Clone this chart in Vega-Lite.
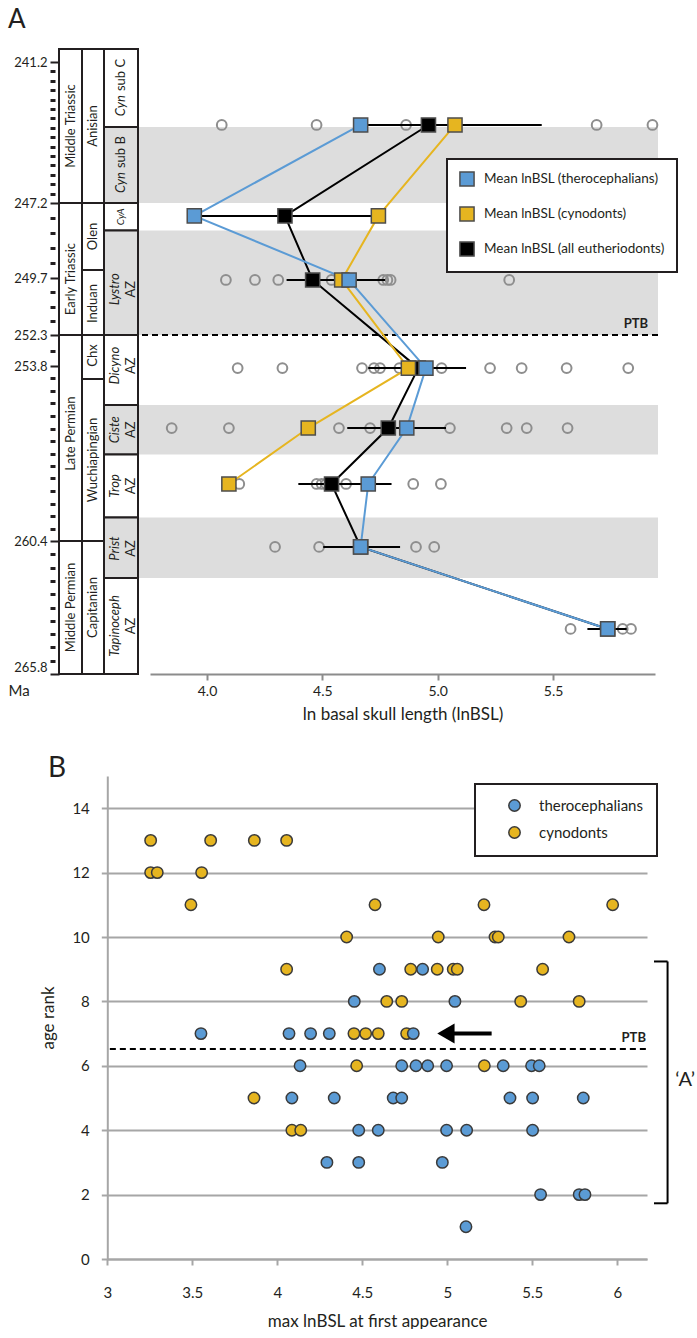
{
  "$schema": "https://vega.github.io/schema/vega-lite/v6.json",
  "background": "white",
  "padding": {"left": 8, "top": 7, "right": 0, "bottom": 0},
  "config": {
    "view": {"stroke": null},
    "font": "Lato",
    "legend": {"strokeWidth": 2}
  },
  "datasets": {
    "one": [{}],
    "zones": [
      {"label": "Middle Triassic", "it": "", "rest": "", "c": 0, "c2": 1, "start": 240.65, "end": 247.2, "gray": false},
      {"label": "Early Triassic", "it": "", "rest": "", "c": 0, "c2": 1, "start": 247.2, "end": 252.3, "gray": false},
      {"label": "Late Permian", "it": "", "rest": "", "c": 0, "c2": 1, "start": 252.3, "end": 260.4, "gray": false},
      {"label": "Middle Permian", "it": "", "rest": "", "c": 0, "c2": 1, "start": 260.4, "end": 265.8, "gray": false},
      {"label": "Anisian", "it": "", "rest": "", "c": 1, "c2": 2, "start": 240.65, "end": 247.2, "gray": false},
      {"label": "Olen", "it": "", "rest": "", "c": 1, "c2": 2, "start": 247.2, "end": 249.43, "gray": false},
      {"label": "Induan", "it": "", "rest": "", "c": 1, "c2": 2, "start": 249.43, "end": 252.3, "gray": false},
      {"label": "Chx", "it": "", "rest": "", "c": 1, "c2": 2, "start": 252.3, "end": 254.29, "gray": false},
      {"label": "Wuchiapingian", "it": "", "rest": "", "c": 1, "c2": 2, "start": 254.29, "end": 260.4, "gray": false},
      {"label": "Capitanian", "it": "", "rest": "", "c": 1, "c2": 2, "start": 260.4, "end": 265.8, "gray": false},
      {"label": "Cyn sub C", "it": "Cyn", "rest": "sub C", "c": 2, "c2": 3, "start": 240.65, "end": 243.97, "gray": false},
      {"label": "Cyn sub B", "it": "Cyn", "rest": "sub B", "c": 2, "c2": 3, "start": 243.97, "end": 247.2, "gray": true},
      {"label": "CyA", "it": "CyA", "rest": "", "c": 2, "c2": 3, "start": 247.2, "end": 248.12, "gray": false},
      {"label": "Lystro AZ", "it": "Lystro", "rest": "AZ", "c": 2, "c2": 3, "start": 248.12, "end": 252.3, "gray": true},
      {"label": "Dicyno AZ", "it": "Dicyno", "rest": "AZ", "c": 2, "c2": 3, "start": 252.3, "end": 255.27, "gray": false},
      {"label": "Ciste AZ", "it": "Ciste", "rest": "AZ", "c": 2, "c2": 3, "start": 255.27, "end": 257.14, "gray": true},
      {"label": "Trop AZ", "it": "Trop", "rest": "AZ", "c": 2, "c2": 3, "start": 257.14, "end": 259.51, "gray": false},
      {"label": "Prist AZ", "it": "Prist", "rest": "AZ", "c": 2, "c2": 3, "start": 259.51, "end": 261.9, "gray": true},
      {"label": "Tapinoceph AZ", "it": "Tapinoceph", "rest": "AZ", "c": 2, "c2": 3, "start": 261.9, "end": 265.8, "gray": false}
    ],
    "pts": [
      {"zone": "Cyn sub B", "ma": 243.88, "v": 4.064}, {"zone": "Cyn sub B", "ma": 243.88, "v": 4.475}, {"zone": "Cyn sub B", "ma": 243.88, "v": 4.863}, {"zone": "Cyn sub B", "ma": 243.88, "v": 5.689}, {"zone": "Cyn sub B", "ma": 243.88, "v": 5.931},
      {"zone": "Lystro", "ma": 249.79, "v": 4.082}, {"zone": "Lystro", "ma": 249.79, "v": 4.208}, {"zone": "Lystro", "ma": 249.79, "v": 4.309}, {"zone": "Lystro", "ma": 249.79, "v": 4.54}, {"zone": "Lystro", "ma": 249.79, "v": 4.764}, {"zone": "Lystro", "ma": 249.79, "v": 4.782}, {"zone": "Lystro", "ma": 249.79, "v": 4.796}, {"zone": "Lystro", "ma": 249.79, "v": 5.31},
      {"zone": "Dicyno", "ma": 253.88, "v": 4.133}, {"zone": "Dicyno", "ma": 253.88, "v": 4.327}, {"zone": "Dicyno", "ma": 253.88, "v": 4.672}, {"zone": "Dicyno", "ma": 253.88, "v": 4.724}, {"zone": "Dicyno", "ma": 253.88, "v": 4.75}, {"zone": "Dicyno", "ma": 253.88, "v": 4.834}, {"zone": "Dicyno", "ma": 253.88, "v": 5.017}, {"zone": "Dicyno", "ma": 253.88, "v": 5.227}, {"zone": "Dicyno", "ma": 253.88, "v": 5.364}, {"zone": "Dicyno", "ma": 253.88, "v": 5.559}, {"zone": "Dicyno", "ma": 253.88, "v": 5.826},
      {"zone": "Ciste", "ma": 256.14, "v": 3.847}, {"zone": "Ciste", "ma": 256.14, "v": 4.095}, {"zone": "Ciste", "ma": 256.14, "v": 4.572}, {"zone": "Ciste", "ma": 256.14, "v": 4.707}, {"zone": "Ciste", "ma": 256.14, "v": 5.053}, {"zone": "Ciste", "ma": 256.14, "v": 5.299}, {"zone": "Ciste", "ma": 256.14, "v": 5.386}, {"zone": "Ciste", "ma": 256.14, "v": 5.563},
      {"zone": "Trop", "ma": 258.25, "v": 4.14}, {"zone": "Trop", "ma": 258.25, "v": 4.475}, {"zone": "Trop", "ma": 258.25, "v": 4.497}, {"zone": "Trop", "ma": 258.25, "v": 4.516}, {"zone": "Trop", "ma": 258.25, "v": 4.603}, {"zone": "Trop", "ma": 258.25, "v": 4.894}, {"zone": "Trop", "ma": 258.25, "v": 5.014},
      {"zone": "Prist", "ma": 260.64, "v": 4.295}, {"zone": "Prist", "ma": 260.64, "v": 4.486}, {"zone": "Prist", "ma": 260.64, "v": 4.906}, {"zone": "Prist", "ma": 260.64, "v": 4.985},
      {"zone": "Tapinoceph", "ma": 263.97, "v": 5.576}, {"zone": "Tapinoceph", "ma": 263.97, "v": 5.802}, {"zone": "Tapinoceph", "ma": 263.97, "v": 5.838}
    ],
    "means": [
      {"series": "Mean lnBSL (all eutheriodonts)", "ma": 243.88, "v": 4.96},
      {"series": "Mean lnBSL (all eutheriodonts)", "ma": 247.63, "v": 4.338},
      {"series": "Mean lnBSL (all eutheriodonts)", "ma": 249.79, "v": 4.458},
      {"series": "Mean lnBSL (all eutheriodonts)", "ma": 253.88, "v": 4.916},
      {"series": "Mean lnBSL (all eutheriodonts)", "ma": 256.14, "v": 4.786},
      {"series": "Mean lnBSL (all eutheriodonts)", "ma": 258.25, "v": 4.54},
      {"series": "Mean lnBSL (all eutheriodonts)", "ma": 260.64, "v": 4.666},
      {"series": "Mean lnBSL (all eutheriodonts)", "ma": 263.97, "v": 5.737},
      {"series": "Mean lnBSL (cynodonts)", "ma": 243.88, "v": 5.075},
      {"series": "Mean lnBSL (cynodonts)", "ma": 247.63, "v": 4.743},
      {"series": "Mean lnBSL (cynodonts)", "ma": 249.79, "v": 4.584},
      {"series": "Mean lnBSL (cynodonts)", "ma": 253.88, "v": 4.873},
      {"series": "Mean lnBSL (cynodonts)", "ma": 256.14, "v": 4.439},
      {"series": "Mean lnBSL (cynodonts)", "ma": 258.25, "v": 4.095},
      {"series": "Mean lnBSL (therocephalians)", "ma": 243.88, "v": 4.666},
      {"series": "Mean lnBSL (therocephalians)", "ma": 247.63, "v": 3.945},
      {"series": "Mean lnBSL (therocephalians)", "ma": 249.79, "v": 4.616},
      {"series": "Mean lnBSL (therocephalians)", "ma": 253.88, "v": 4.949},
      {"series": "Mean lnBSL (therocephalians)", "ma": 256.14, "v": 4.866},
      {"series": "Mean lnBSL (therocephalians)", "ma": 258.25, "v": 4.699},
      {"series": "Mean lnBSL (therocephalians)", "ma": 260.64, "v": 4.666},
      {"series": "Mean lnBSL (therocephalians)", "ma": 263.97, "v": 5.737}
    ],
    "err": [
      {"ma": 243.88, "lo": 4.69, "hi": 5.451},
      {"ma": 247.63, "lo": 3.945, "hi": 4.743},
      {"ma": 249.79, "lo": 4.345, "hi": 4.772},
      {"ma": 253.88, "lo": 4.699, "hi": 5.123},
      {"ma": 256.14, "lo": 4.608, "hi": 5.036},
      {"ma": 258.25, "lo": 4.396, "hi": 4.8},
      {"ma": 260.64, "lo": 4.504, "hi": 4.837},
      {"ma": 263.97, "lo": 5.649, "hi": 5.819}
    ],
    "fa": [
      {"group": "cynodonts", "rank": 13, "v": 3.255}, {"group": "cynodonts", "rank": 13, "v": 3.608}, {"group": "cynodonts", "rank": 13, "v": 3.865}, {"group": "cynodonts", "rank": 13, "v": 4.055},
      {"group": "cynodonts", "rank": 12, "v": 3.255}, {"group": "cynodonts", "rank": 12, "v": 3.294}, {"group": "cynodonts", "rank": 12, "v": 3.555},
      {"group": "cynodonts", "rank": 11, "v": 3.492}, {"group": "cynodonts", "rank": 11, "v": 4.575}, {"group": "cynodonts", "rank": 11, "v": 5.216}, {"group": "cynodonts", "rank": 11, "v": 5.973},
      {"group": "cynodonts", "rank": 10, "v": 4.408}, {"group": "cynodonts", "rank": 10, "v": 4.947}, {"group": "cynodonts", "rank": 10, "v": 5.281}, {"group": "cynodonts", "rank": 10, "v": 5.3}, {"group": "cynodonts", "rank": 10, "v": 5.716},
      {"group": "cynodonts", "rank": 9, "v": 4.055}, {"group": "cynodonts", "rank": 9, "v": 4.785}, {"group": "cynodonts", "rank": 9, "v": 4.941}, {"group": "cynodonts", "rank": 9, "v": 5.035}, {"group": "cynodonts", "rank": 9, "v": 5.059}, {"group": "cynodonts", "rank": 9, "v": 5.561},
      {"group": "cynodonts", "rank": 8, "v": 4.644}, {"group": "cynodonts", "rank": 8, "v": 4.732}, {"group": "cynodonts", "rank": 8, "v": 5.432}, {"group": "cynodonts", "rank": 8, "v": 5.776},
      {"group": "cynodonts", "rank": 7, "v": 4.451}, {"group": "cynodonts", "rank": 7, "v": 4.52}, {"group": "cynodonts", "rank": 7, "v": 4.594}, {"group": "cynodonts", "rank": 7, "v": 4.761},
      {"group": "cynodonts", "rank": 6, "v": 4.467}, {"group": "cynodonts", "rank": 6, "v": 5.218},
      {"group": "cynodonts", "rank": 5, "v": 3.863},
      {"group": "cynodonts", "rank": 4, "v": 4.086}, {"group": "cynodonts", "rank": 4, "v": 4.138},
      {"group": "therocephalians", "rank": 9, "v": 4.601}, {"group": "therocephalians", "rank": 9, "v": 4.855},
      {"group": "therocephalians", "rank": 8, "v": 4.453}, {"group": "therocephalians", "rank": 8, "v": 5.045},
      {"group": "therocephalians", "rank": 7, "v": 3.551}, {"group": "therocephalians", "rank": 7, "v": 4.069}, {"group": "therocephalians", "rank": 7, "v": 4.196}, {"group": "therocephalians", "rank": 7, "v": 4.306}, {"group": "therocephalians", "rank": 7, "v": 4.8},
      {"group": "therocephalians", "rank": 6, "v": 4.134}, {"group": "therocephalians", "rank": 6, "v": 4.732}, {"group": "therocephalians", "rank": 6, "v": 4.816}, {"group": "therocephalians", "rank": 6, "v": 4.885}, {"group": "therocephalians", "rank": 6, "v": 4.996}, {"group": "therocephalians", "rank": 6, "v": 5.329}, {"group": "therocephalians", "rank": 6, "v": 5.496}, {"group": "therocephalians", "rank": 6, "v": 5.541},
      {"group": "therocephalians", "rank": 5, "v": 4.086}, {"group": "therocephalians", "rank": 5, "v": 4.335}, {"group": "therocephalians", "rank": 5, "v": 4.682}, {"group": "therocephalians", "rank": 5, "v": 4.732}, {"group": "therocephalians", "rank": 5, "v": 5.369}, {"group": "therocephalians", "rank": 5, "v": 5.502}, {"group": "therocephalians", "rank": 5, "v": 5.8},
      {"group": "therocephalians", "rank": 4, "v": 4.479}, {"group": "therocephalians", "rank": 4, "v": 4.594}, {"group": "therocephalians", "rank": 4, "v": 4.996}, {"group": "therocephalians", "rank": 4, "v": 5.114}, {"group": "therocephalians", "rank": 4, "v": 5.502},
      {"group": "therocephalians", "rank": 3, "v": 4.292}, {"group": "therocephalians", "rank": 3, "v": 4.479}, {"group": "therocephalians", "rank": 3, "v": 4.971},
      {"group": "therocephalians", "rank": 2, "v": 5.549}, {"group": "therocephalians", "rank": 2, "v": 5.776}, {"group": "therocephalians", "rank": 2, "v": 5.81},
      {"group": "therocephalians", "rank": 1, "v": 5.11}
    ]
  },
  "bounds": "flush",
  "spacing": 102,
  "resolve": {"scale": {"fill": "independent", "stroke": "independent", "x": "independent", "y": "independent"}, "legend": {"fill": "independent", "stroke": "independent"}},
  "vconcat": [
    {
      "width": 599,
      "height": 625,
      "title": {"text": "A", "anchor": "start", "frame": "group", "fontSize": 26, "fontWeight": "normal", "dx": -51, "offset": 15, "color": "#231f20"},
      "resolve": {"scale": {"x": "independent"}, "axis": {"x": "independent"}},
      "layer": [
        {
          "data": {"name": "zones"},
          "transform": [{"filter": "datum.gray"}],
          "mark": {"type": "rect", "fill": "#dddddd"},
          "encoding": {
            "y": {
              "field": "start", "type": "quantitative",
              "scale": {"domain": [240.65, 241.2, 247.2, 249.7, 252.3, 253.8, 260.4, 265.8], "range": [0, 13, 154, 229, 286, 317, 492, 625], "nice": false, "zero": false},
              "axis": {
                "values": [241.2, 241.6, 242.0, 242.4, 242.8, 243.2, 243.6, 244.0, 244.4, 244.8, 245.2, 245.6, 246.0, 246.4, 246.8, 247.2, 247.7, 248.2, 248.7, 249.2, 249.7, 250.35, 251.0, 251.65, 252.3, 253.05, 253.8, 254.27, 254.74, 255.21, 255.69, 256.16, 256.63, 257.1, 257.57, 258.04, 258.51, 258.99, 259.46, 259.93, 260.4, 260.94, 261.48, 262.02, 262.56, 263.1, 263.64, 264.18, 264.72, 265.26, 265.8],
                "tickCount": 500,
                "labelExpr": "indexof([241.2,247.2,249.7,252.3,253.8,260.4,265.8], datum.value) >= 0 ? format(datum.value, '.1f') : ''",
                "labelOverlap": false,
                "domain": false,
                "grid": false,
                "tickSize": 9,
                "tickColor": "#231f20",
                "tickWidth": {"condition": {"test": "indexof([241.2,247.2,249.7,252.3,253.8,260.4,265.8], datum.value) >= 0", "value": 2}, "value": 3},
                "tickDash": {"condition": {"test": "indexof([241.2,247.2,249.7,252.3,253.8,260.4,265.8], datum.value) >= 0", "value": [20, 0]}, "value": [0, 4, 5, 0]},
                "labelFontSize": 13,
                "labelColor": "#231f20",
                "labelPadding": 3,
                "labelBaseline": {"condition": {"test": "datum.value == 265.8", "value": "bottom"}, "value": "middle"},
                "title": "Ma",
                "titleAngle": 0,
                "titleX": -51,
                "titleY": 641,
                "titleAlign": "left",
                "titleBaseline": "middle",
                "titleFontSize": 15,
                "titleFontWeight": "normal",
                "titleColor": "#231f20"
              }
            },
            "y2": {"field": "end"}
          }
        },
        {
          "data": {"name": "one"},
          "mark": {"type": "rule", "strokeDash": [6, 4], "strokeWidth": 2, "color": "#000000"},
          "encoding": {
            "y": {"datum": 252.3, "type": "quantitative"}
          }
        },
        {
          "data": {"name": "zones"},
          "transform": [
            {"calculate": "(datum.start + datum.end) / 2", "as": "mid"},
            {"calculate": "datum.c + 0.5", "as": "cx"}
          ],
          "layer": [
            {
              "mark": {"type": "rect", "stroke": "#231f20", "strokeWidth": 2},
              "encoding": {
                "x": {"field": "c", "type": "quantitative", "scale": {"domain": [0, 1, 2, 3], "range": [0, 23, 45, 79], "nice": false, "zero": false}, "axis": null},
                "x2": {"field": "c2"},
                "y": {"field": "start", "type": "quantitative"},
                "y2": {"field": "end"},
                "fill": {"condition": {"test": "datum.gray", "value": "#dddddd"}, "value": "#ffffff"}
              }
            },
            {
              "transform": [{"filter": "datum.c < 2"}],
              "mark": {"type": "text", "angle": 270, "fontSize": 13, "color": "#231f20", "align": "center", "baseline": "middle"},
              "encoding": {
                "x": {"field": "cx", "type": "quantitative", "axis": null},
                "y": {"field": "mid", "type": "quantitative"},
                "text": {"field": "label"}
              }
            },
            {
              "transform": [{"filter": "datum.it == 'Cyn'"}],
              "mark": {"type": "text", "angle": 270, "fontSize": 13, "fontStyle": "italic", "color": "#231f20", "align": "right", "baseline": "middle", "dx": -7},
              "encoding": {
                "x": {"field": "cx", "type": "quantitative", "axis": null},
                "y": {"field": "mid", "type": "quantitative"},
                "text": {"field": "it"}
              }
            },
            {
              "transform": [{"filter": "datum.it == 'Cyn'"}],
              "mark": {"type": "text", "angle": 270, "fontSize": 13, "color": "#231f20", "align": "left", "baseline": "middle", "dx": -3},
              "encoding": {
                "x": {"field": "cx", "type": "quantitative", "axis": null},
                "y": {"field": "mid", "type": "quantitative"},
                "text": {"field": "rest"}
              }
            },
            {
              "transform": [{"filter": "datum.it == 'CyA'"}],
              "mark": {"type": "text", "angle": 270, "fontSize": 10, "fontStyle": "italic", "color": "#231f20", "align": "center", "baseline": "middle"},
              "encoding": {
                "x": {"field": "cx", "type": "quantitative", "axis": null},
                "y": {"field": "mid", "type": "quantitative"},
                "text": {"field": "it"}
              }
            },
            {
              "transform": [{"filter": "datum.rest == 'AZ'"}],
              "mark": {"type": "text", "angle": 270, "fontSize": 13, "fontStyle": "italic", "color": "#231f20", "align": "center", "baseline": "middle", "dy": -6},
              "encoding": {
                "x": {"field": "cx", "type": "quantitative", "axis": null},
                "y": {"field": "mid", "type": "quantitative"},
                "text": {"field": "it"}
              }
            },
            {
              "transform": [{"filter": "datum.rest == 'AZ'"}],
              "mark": {"type": "text", "angle": 270, "fontSize": 13, "color": "#231f20", "align": "center", "baseline": "middle", "dy": 10},
              "encoding": {
                "x": {"field": "cx", "type": "quantitative", "axis": null},
                "y": {"field": "mid", "type": "quantitative"},
                "text": {"field": "rest"}
              }
            }
          ]
        },
        {
          "layer": [
            {
              "data": {"name": "pts"},
              "mark": {"type": "point", "shape": "circle", "filled": false, "stroke": "#8e8e8e", "strokeWidth": 2, "size": 95, "opacity": 1},
              "encoding": {
                "x": {
                  "field": "v", "type": "quantitative",
                  "scale": {"domain": [3.753, 5.942], "range": [91, 596], "nice": false, "zero": false},
                  "axis": {
                    "values": [4.0, 4.5, 5.0, 5.5],
                    "labelExpr": "format(datum.value, '.1f')",
                    "title": "ln basal skull length (lnBSL)",
                    "grid": false,
                    "domainColor": "#8c8c8c", "domainWidth": 2,
                    "tickColor": "#8c8c8c", "tickWidth": 2, "tickSize": 6,
                    "labelFontSize": 14, "labelColor": "#231f20", "labelPadding": 4, "labelFlush": false,
                    "titleFontSize": 17, "titleFontWeight": "normal", "titleColor": "#231f20", "titlePadding": 8
                  }
                },
                "y": {"field": "ma", "type": "quantitative"}
              }
            },
            {
              "data": {"name": "means"},
              "mark": {"type": "line", "strokeWidth": 2},
              "encoding": {
                "x": {"field": "v", "type": "quantitative"},
                "y": {"field": "ma", "type": "quantitative"},
                "stroke": {"field": "series", "type": "nominal", "scale": {"domain": ["Mean lnBSL (all eutheriodonts)", "Mean lnBSL (cynodonts)", "Mean lnBSL (therocephalians)"], "range": ["#000000", "#e6b520", "#5b9bd5"]}, "legend": null},
                "order": {"field": "ma", "type": "quantitative"}
              }
            },
            {
              "data": {"name": "err"},
              "mark": {"type": "rule", "color": "#000000", "strokeWidth": 2},
              "encoding": {
                "x": {"field": "lo", "type": "quantitative"},
                "x2": {"field": "hi"},
                "y": {"field": "ma", "type": "quantitative"}
              }
            },
            {
              "data": {"name": "means"},
              "mark": {"type": "point", "shape": "square", "filled": true, "size": 200, "stroke": "#4d4d4d", "strokeWidth": 1.5, "opacity": 1},
              "encoding": {
                "x": {"field": "v", "type": "quantitative"},
                "y": {"field": "ma", "type": "quantitative"},
                "fill": {
                  "field": "series", "type": "nominal",
                  "scale": {"domain": ["Mean lnBSL (therocephalians)", "Mean lnBSL (cynodonts)", "Mean lnBSL (all eutheriodonts)"], "range": ["#5b9bd5", "#e6b520", "#000000"]},
                  "legend": {
                    "title": null, "orient": "none", "legendX": 388, "legendY": 110,
                    "symbolType": "square", "symbolSize": 200, "symbolStrokeColor": "#4d4d4d", "symbolStrokeWidth": 1.5,
                    "labelFontSize": 13.5, "labelColor": "#231f20", "labelOffset": 9, "labelLimit": 300,
                    "padding": 12, "rowPadding": 13, "strokeColor": "#231f20", "fillColor": "#ffffff"
                  }
                }
              }
            },
            {
              "data": {"name": "one"},
              "mark": {"type": "text", "text": "PTB", "fontSize": 13, "fontWeight": "bold", "align": "right", "baseline": "middle", "dy": -11, "color": "#231f20"},
              "encoding": {
                "x": {"datum": 5.912, "type": "quantitative"},
                "y": {"datum": 252.3, "type": "quantitative"}
              }
            }
          ]
        }
      ]
    },
    {
      "width": 588,
      "height": 483,
      "title": {"text": "B", "anchor": "start", "frame": "group", "fontSize": 28, "fontWeight": "normal", "dx": -11, "offset": -7, "color": "#231f20"},
      "layer": [
        {
          "data": {"name": "fa"},
          "mark": {"type": "point", "shape": "circle", "filled": true, "size": 130, "stroke": "#3a3a3a", "strokeWidth": 1.5, "opacity": 1},
          "encoding": {
            "x": {
              "field": "v", "type": "quantitative",
              "scale": {"domain": [3, 6.175], "range": [48.3, 588], "nice": false, "zero": false},
              "axis": {
                "values": [3, 3.5, 4, 4.5, 5, 5.5, 6],
                "labelExpr": "'' + datum.value",
                "grid": false,
                "domainColor": "#a6a6a6", "domainWidth": 2,
                "tickColor": "#a6a6a6", "tickWidth": 2, "tickSize": 6,
                "labelFontSize": 15, "labelColor": "#231f20", "labelPadding": 20, "labelFlush": false,
                "title": "max lnBSL at first appearance",
                "titleFontSize": 17, "titleFontWeight": "normal", "titleColor": "#231f20", "titlePadding": 13
              }
            },
            "y": {
              "field": "rank", "type": "quantitative",
              "scale": {"domain": [0, 15], "nice": false, "zero": false},
              "axis": {
                "values": [0, 2, 4, 6, 8, 10, 12, 14],
                "grid": true, "gridColor": "#a6a6a6", "gridWidth": 2,
                "domainColor": "#a6a6a6", "domainWidth": 2,
                "tickColor": "#a6a6a6", "tickWidth": 2, "tickSize": 6,
                "offset": -48.3,
                "labelFontSize": 15, "labelColor": "#231f20", "labelPadding": 12,
                "title": "age rank",
                "titleFontSize": 17, "titleFontWeight": "normal", "titleColor": "#231f20", "titlePadding": 14
              }
            },
            "fill": {
              "field": "group", "type": "nominal",
              "scale": {"domain": ["therocephalians", "cynodonts"], "range": ["#5b9bd5", "#e6b520"]},
              "legend": {
                "title": null, "orient": "none", "legendX": 416, "legendY": 8,
                "symbolType": "circle", "symbolSize": 130, "symbolStrokeColor": "#3a3a3a", "symbolStrokeWidth": 1.5, "symbolOffset": 18,
                "labelFontSize": 15, "labelColor": "#231f20", "labelOffset": 17,
                "padding": 14, "rowPadding": 8, "strokeColor": "#231f20", "fillColor": "#ffffff"
              }
            }
          }
        },
        {
          "data": {"name": "one"},
          "mark": {"type": "rule", "strokeDash": [6, 4], "strokeWidth": 2, "color": "#000000"},
          "encoding": {
            "x": {"datum": 3.015, "type": "quantitative"},
            "x2": {"datum": 6.175},
            "y": {"datum": 6.52, "type": "quantitative"}
          }
        },
        {
          "data": {"name": "one"},
          "mark": {"type": "text", "text": "PTB", "fontSize": 13, "fontWeight": "bold", "align": "right", "baseline": "middle", "dy": -11, "color": "#231f20"},
          "encoding": {
            "x": {"datum": 6.169, "type": "quantitative"},
            "y": {"datum": 6.52, "type": "quantitative"}
          }
        },
        {
          "data": {"name": "one"},
          "mark": {"type": "rule", "strokeWidth": 4, "color": "#000000"},
          "encoding": {
            "x": {"datum": 5.03, "type": "quantitative"},
            "x2": {"datum": 5.261},
            "y": {"datum": 7, "type": "quantitative"}
          }
        },
        {
          "data": {"name": "one"},
          "mark": {"type": "point", "shape": "triangle-left", "filled": true, "fill": "#000000", "strokeWidth": 0, "size": 400, "opacity": 1},
          "encoding": {
            "x": {"datum": 4.992, "type": "quantitative"},
            "y": {"datum": 7, "type": "quantitative"}
          }
        },
        {
          "data": {"name": "one"},
          "mark": {"type": "rule", "strokeWidth": 2, "color": "#000000"},
          "encoding": {
            "x": {"datum": 6.296, "type": "quantitative"},
            "y": {"datum": 1.73, "type": "quantitative"},
            "y2": {"datum": 9.24}
          }
        },
        {
          "data": {"name": "one"},
          "mark": {"type": "rule", "strokeWidth": 2, "color": "#000000"},
          "encoding": {
            "x": {"datum": 6.216, "type": "quantitative"},
            "x2": {"datum": 6.296},
            "y": {"datum": 9.24, "type": "quantitative"}
          }
        },
        {
          "data": {"name": "one"},
          "mark": {"type": "rule", "strokeWidth": 2, "color": "#000000"},
          "encoding": {
            "x": {"datum": 6.216, "type": "quantitative"},
            "x2": {"datum": 6.296},
            "y": {"datum": 1.73, "type": "quantitative"}
          }
        },
        {
          "data": {"name": "one"},
          "mark": {"type": "text", "text": "‘A’", "fontSize": 20, "align": "center", "baseline": "middle", "color": "#231f20"},
          "encoding": {
            "x": {"datum": 6.4, "type": "quantitative"},
            "y": {"datum": 5.57, "type": "quantitative"}
          }
        }
      ]
    }
  ]
}
